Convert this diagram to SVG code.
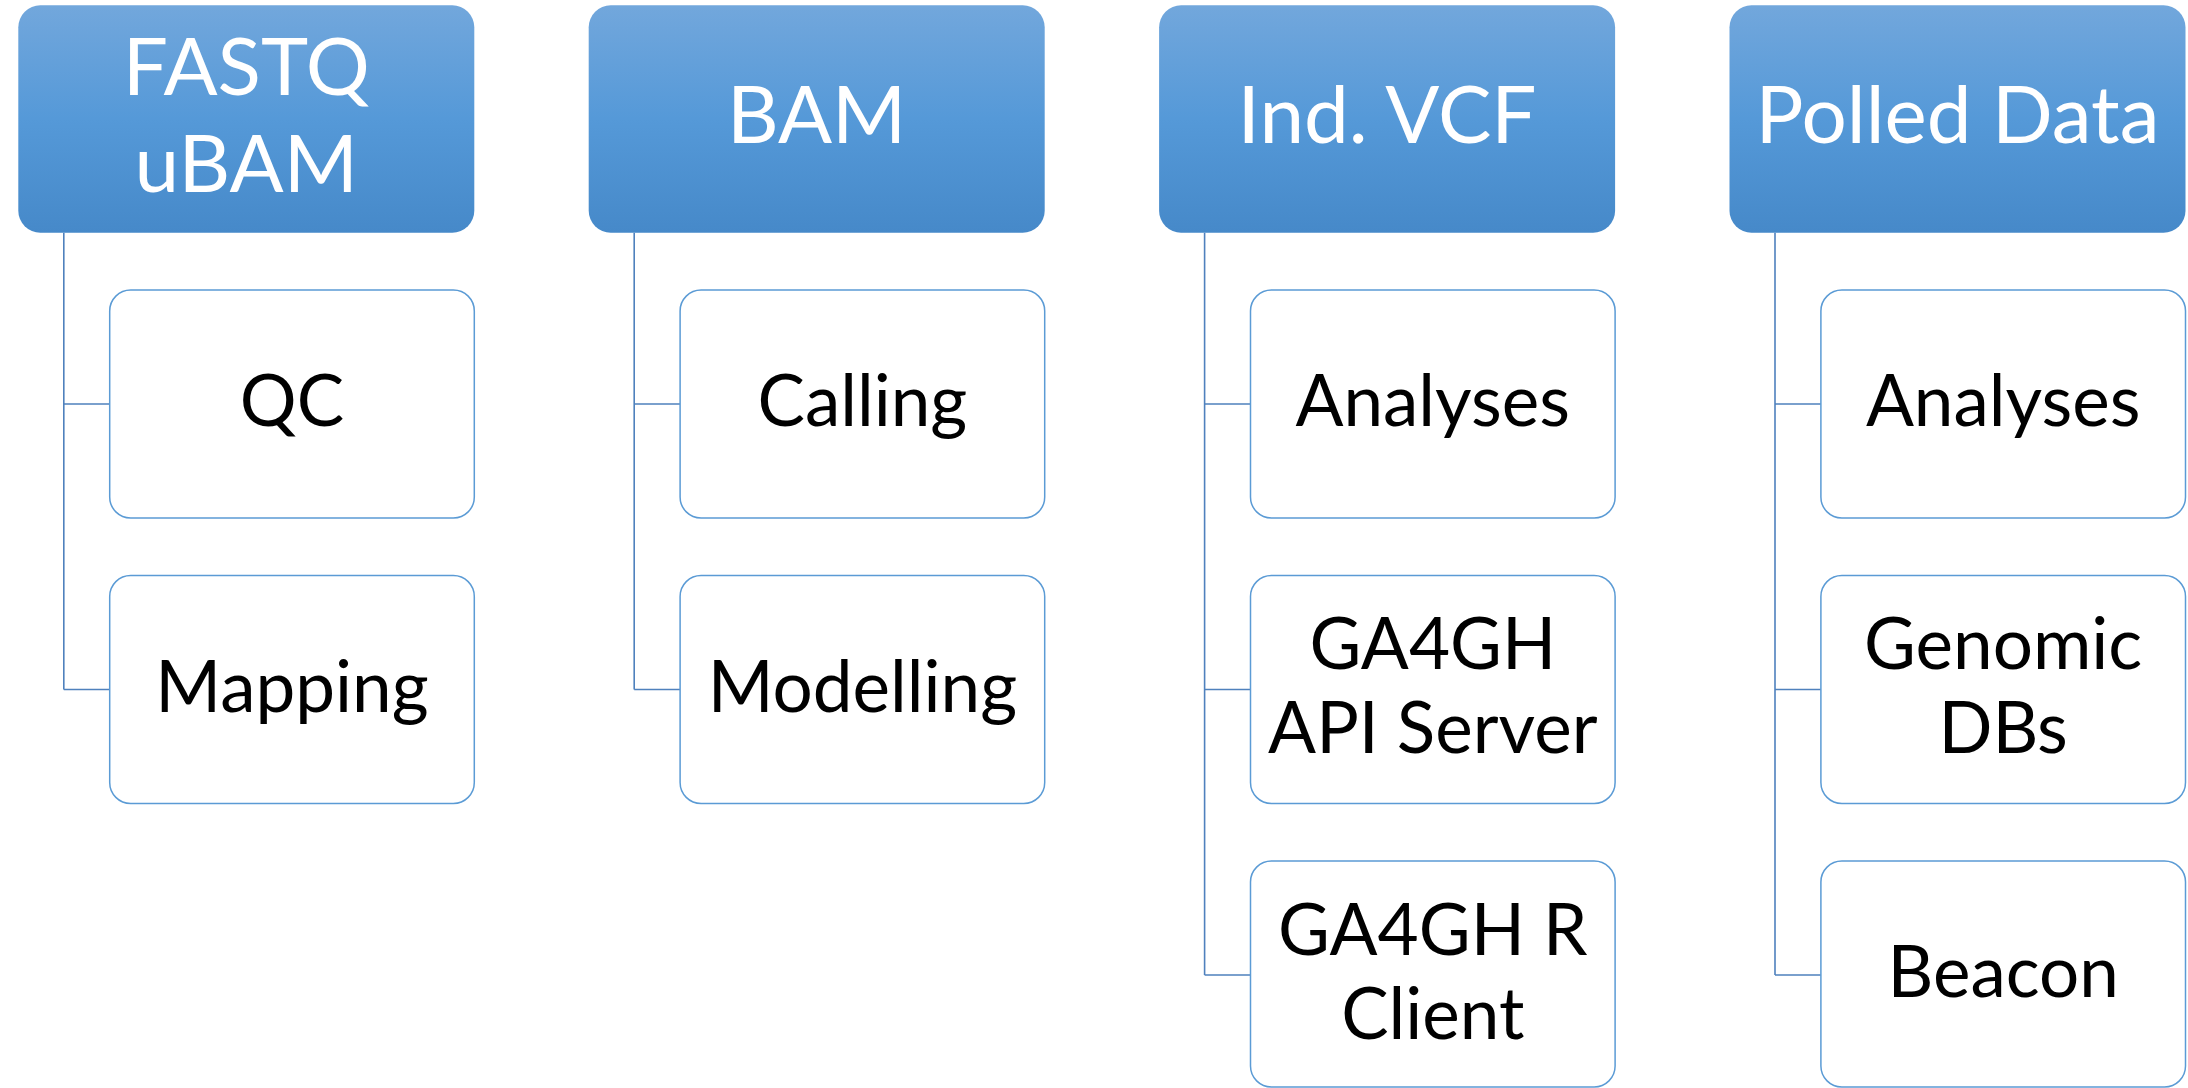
<svg xmlns="http://www.w3.org/2000/svg" width="2188" height="1088" viewBox="0 0 2188 1088">
<defs>
<linearGradient id="hg" x1="0" y1="0" x2="0" y2="1">
<stop offset="0" stop-color="#72a7dc"/>
<stop offset="0.5" stop-color="#5599d8"/>
<stop offset="1" stop-color="#4689c9"/>
</linearGradient>
</defs>
<style>
.hdr{fill:url(#hg);}
.child{fill:#ffffff;stroke:#5b9bd5;stroke-width:1.5;}
.conn{fill:none;stroke:#4f81bd;stroke-width:1.6;}
.ht{font-family:Lato,"Liberation Sans",sans-serif;font-size:80px;fill:#ffffff;text-anchor:middle;}
.ct{font-family:Lato,"Liberation Sans",sans-serif;font-size:71px;fill:#000000;text-anchor:middle;}
</style>
<rect width="2188" height="1088" fill="#ffffff"/>
<g id="connectors">
<path class="conn" d="M63.8,232.7 V689.5 M63.8,404 H109.7 M63.8,689.5 H109.7"/>
<path class="conn" d="M634.2,232.7 V689.5 M634.2,404 H680.1 M634.2,689.5 H680.1"/>
<path class="conn" d="M1204.6,232.7 V975 M1204.6,404 H1250.5 M1204.6,689.5 H1250.5 M1204.6,975 H1250.5"/>
<path class="conn" d="M1775,232.7 V975 M1775,404 H1820.9 M1775,689.5 H1820.9 M1775,975 H1820.9"/>
</g>
<g id="h1"><rect class="hdr" x="18.3" y="5.3" width="456" height="227.4" rx="22"/><text class="ht" x="246.3" y="95">FASTQ</text><text class="ht" x="246.3" y="192">uBAM</text></g>
<g id="h2"><rect class="hdr" x="588.7" y="5.3" width="456" height="227.4" rx="22"/><text class="ht" x="816.7" y="143.3">BAM</text></g>
<g id="h3"><rect class="hdr" x="1159.1" y="5.3" width="456" height="227.4" rx="22"/><text class="ht" x="1387.1" y="143.3">Ind. VCF</text></g>
<g id="h4"><rect class="hdr" x="1729.5" y="5.3" width="456" height="227.4" rx="22"/><text class="ht" x="1957.5" y="143.3">Polled Data</text></g>
<g id="c1a"><rect class="child" x="109.7" y="290" width="364.6" height="228" rx="21"/><text class="ct" x="292" y="426">QC</text></g>
<g id="c1b"><rect class="child" x="109.7" y="575.5" width="364.6" height="228" rx="21"/><text class="ct" x="292" y="711.5">Mapping</text></g>
<g id="c2a"><rect class="child" x="680.1" y="290" width="364.6" height="228" rx="21"/><text class="ct" x="862.4" y="426">Calling</text></g>
<g id="c2b"><rect class="child" x="680.1" y="575.5" width="364.6" height="228" rx="21"/><text class="ct" x="862.4" y="711.5">Modelling</text></g>
<g id="c3a"><rect class="child" x="1250.5" y="290" width="364.6" height="228" rx="21"/><text class="ct" x="1432.8" y="426">Analyses</text></g>
<g id="c3b"><rect class="child" x="1250.5" y="575.5" width="364.6" height="228" rx="21"/><text class="ct" x="1432.8" y="669">GA4GH</text><text class="ct" x="1432.8" y="753">API Server</text></g>
<g id="c3c"><rect class="child" x="1250.5" y="861" width="364.6" height="226" rx="21"/><text class="ct" x="1432.8" y="954.7">GA4GH R</text><text class="ct" x="1432.8" y="1038.7">Client</text></g>
<g id="c4a"><rect class="child" x="1820.9" y="290" width="364.6" height="228" rx="21"/><text class="ct" x="2003.2" y="426">Analyses</text></g>
<g id="c4b"><rect class="child" x="1820.9" y="575.5" width="364.6" height="228" rx="21"/><text class="ct" x="2003.2" y="669">Genomic</text><text class="ct" x="2003.2" y="753">DBs</text></g>
<g id="c4c"><rect class="child" x="1820.9" y="861" width="364.6" height="226" rx="21"/><text class="ct" x="2003.2" y="997">Beacon</text></g>
</svg>
